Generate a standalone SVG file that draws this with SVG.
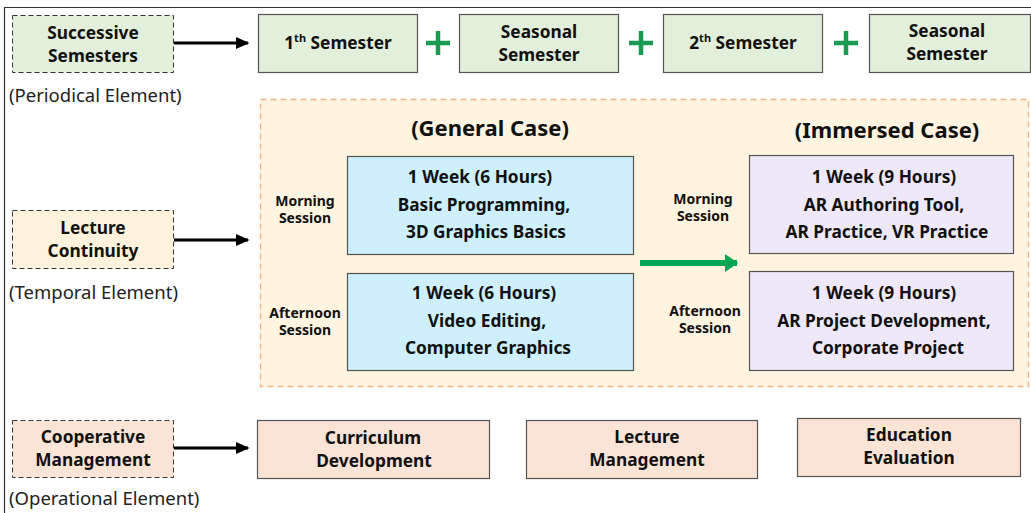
<svg xmlns="http://www.w3.org/2000/svg" width="1031" height="513" viewBox="0 0 1031 513">
<defs>
<style>
text{font-family:"Noto Sans","Open Sans",sans-serif;fill:#111;text-anchor:middle}
.b{font-weight:bold;font-size:17.3px}
.s{font-weight:bold;font-size:14px}
.h{font-weight:bold;font-size:22px}
.el{font-size:18.5px;text-anchor:start;fill:#222}
.dash{stroke:#333;stroke-width:1;stroke-dasharray:5,3}
.box{stroke:#555;stroke-width:1.2}
.g{fill:#e2efda}
.y{fill:#fff2dc}
.o{fill:#fbe4d6}
.plus{stroke:#1a9a50;stroke-width:4.5}
.arr{stroke:#000;stroke-width:3;marker-end:url(#ah)}
</style>
<marker id="ah" markerWidth="5" markerHeight="5" refX="4" refY="2.5" orient="auto" markerUnits="strokeWidth"><path d="M0,0.5 L4.5,2.5 L0,4.5 Z" fill="#000"/></marker>
<marker id="gh" markerWidth="3" markerHeight="3" refX="2" refY="1.5" orient="auto" markerUnits="strokeWidth"><path d="M0,0 L2.2,1.5 L0,3 Z" fill="#00a651"/></marker>
</defs>
<rect x="0" y="0" width="1031" height="513" fill="#fff"/>
<path d="M4.5,513 V7.5 H1031" fill="none" stroke="#333" stroke-width="1.2"/>

<g id="successive-semesters">
<rect x="12.5" y="15.5" width="161" height="57" class="g dash"/>
<text class="b" x="93" y="39">Successive</text>
<text class="b" x="93" y="62">Semesters</text>
<text class="el" x="9" y="102">(Periodical Element)</text>
</g>
<g id="sem1"><rect x="258.5" y="14.5" width="159" height="58" class="g box"/><text class="b" x="338" y="49">1<tspan font-size="11" dy="-7">th</tspan><tspan dy="7"> Semester</tspan></text></g>
<g id="seasonal1"><rect x="459.5" y="14.5" width="159" height="58" class="g box"/><text class="b" x="539" y="38">Seasonal</text><text class="b" x="539" y="61">Semester</text></g>
<g id="sem2"><rect x="663.5" y="14.5" width="159" height="58" class="g box"/><text class="b" x="743" y="49">2<tspan font-size="11" dy="-7">th</tspan><tspan dy="7"> Semester</tspan></text></g>
<g id="seasonal2"><rect x="869.5" y="14.5" width="161" height="58" class="g box"/><text class="b" x="947" y="37">Seasonal</text><text class="b" x="947" y="60">Semester</text></g>
<g id="plus-signs">
<path class="plus" d="M426,43 H450 M438,31 V55"/>
<path class="plus" d="M629,43 H653 M641,31 V55"/>
<path class="plus" d="M834,43 H858 M846,31 V55"/>
</g>

<g id="lecture-continuity">
<rect x="12.5" y="210.5" width="161" height="58" class="y dash"/>
<text class="b" x="93" y="234">Lecture</text>
<text class="b" x="93" y="257">Continuity</text>
<text class="el" x="9" y="299">(Temporal Element)</text>
</g>

<g id="case-container">
<rect x="260.5" y="99.5" width="768" height="287" fill="#fff4e0" stroke="#f4b183" stroke-width="1.3" stroke-dasharray="6,4"/>
<text class="h" x="490" y="136">(General Case)</text>
<text class="h" x="887" y="138">(Immersed Case)</text>
<text class="s" x="305" y="206">Morning</text>
<text class="s" x="305" y="223">Session</text>
<text class="s" x="305" y="318">Afternoon</text>
<text class="s" x="305" y="335">Session</text>
<text class="s" x="703" y="204">Morning</text>
<text class="s" x="703" y="221">Session</text>
<text class="s" x="705" y="316">Afternoon</text>
<text class="s" x="705" y="333">Session</text>
</g>
<g id="general-morning"><rect x="347.5" y="156.5" width="286" height="98" fill="#cdf0fc" class="box"/>
<text class="b" x="480" y="183">1 Week (6 Hours)</text><text class="b" x="484" y="211">Basic Programming,</text><text class="b" x="486" y="238">3D Graphics Basics</text></g>
<g id="general-afternoon"><rect x="347.5" y="273.5" width="286" height="97" fill="#cdf0fc" class="box"/>
<text class="b" x="484" y="299">1 Week (6 Hours)</text><text class="b" x="487" y="327">Video Editing,</text><text class="b" x="488" y="354">Computer Graphics</text></g>
<g id="immersed-morning"><rect x="749.5" y="155.5" width="264" height="98" fill="#efe8f8" class="box"/>
<text class="b" x="884" y="183">1 Week (9 Hours)</text><text class="b" x="884" y="211">AR Authoring Tool,</text><text class="b" x="887" y="238">AR Practice, VR Practice</text></g>
<g id="immersed-afternoon"><rect x="749.5" y="271.5" width="264" height="99" fill="#efe8f8" class="box"/>
<text class="b" x="884" y="299">1 Week (9 Hours)</text><text class="b" x="884" y="327">AR Project Development,</text><text class="b" x="888" y="354">Corporate Project</text></g>

<g id="cooperative-management">
<rect x="12.5" y="420.5" width="161" height="57" class="o dash"/>
<text class="b" x="93" y="443">Cooperative</text>
<text class="b" x="93" y="466">Management</text>
<text class="el" x="9" y="505">(Operational Element)</text>
</g>
<g id="curriculum"><rect x="257.5" y="420.5" width="232" height="58" class="o box"/><text class="b" x="373" y="444">Curriculum</text><text class="b" x="374" y="467">Development</text></g>
<g id="lecture-mgmt"><rect x="526.5" y="420.5" width="231" height="58" class="o box"/><text class="b" x="647" y="443">Lecture</text><text class="b" x="647" y="466">Management</text></g>
<g id="edu-eval"><rect x="797.5" y="418.5" width="223" height="58" class="o box"/><text class="b" x="909" y="441">Education</text><text class="b" x="909" y="464">Evaluation</text></g>

<g id="connectors">
<line class="arr" x1="174" y1="43" x2="248" y2="43"/>
<line class="arr" x1="174" y1="240" x2="248" y2="240"/>
<line class="arr" x1="174" y1="448" x2="248" y2="448"/>
<line x1="640" y1="263" x2="737" y2="263" stroke="#00a651" stroke-width="6" marker-end="url(#gh)"/>
</g>
</svg>
